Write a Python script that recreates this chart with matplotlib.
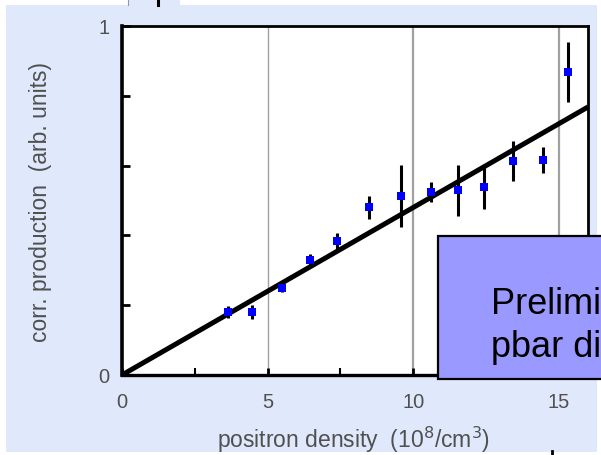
import matplotlib
matplotlib.use("Agg")
from matplotlib import pyplot as plt
from matplotlib.patches import Rectangle

plt.rcParams['font.family'] = ['Liberation Sans', 'DejaVu Sans']

# positron density (10^8/cm^3) and corr. production (arb. units)
density = [3.64, 4.47, 5.50, 6.46, 7.39, 8.49, 9.59, 10.62, 11.55, 12.44, 13.44, 14.47, 15.30]
production = [0.181, 0.181, 0.249, 0.330, 0.384, 0.481, 0.513, 0.524, 0.530, 0.539, 0.613, 0.616, 0.868]
errors = [0.018, 0.020, 0.012, 0.018, 0.022, 0.033, 0.090, 0.029, 0.073, 0.062, 0.057, 0.037, 0.087]
fit_slope = 0.048
fit_x = [0, 16]
fit_y = [fit_slope * v for v in fit_x]

W, H = 601, 456
fig = plt.figure(figsize=(W / 100, H / 100), dpi=100, facecolor='white')

# slide background
fig.patches.append(Rectangle((6 / W, 3 / H), (597 - 6) / W, (450 - 3) / H,
                             transform=fig.transFigure, facecolor='#dfe9fb',
                             edgecolor='none', zorder=-5))
# bits of the slide above the chart
fig.patches.append(Rectangle((128 / W, 450 / H), 52 / W, 6 / H,
                             transform=fig.transFigure, facecolor='#dfe9fb',
                             edgecolor='none', zorder=-5))
fig.lines.append(plt.Line2D([157.5 / W, 157.5 / W], [450 / H, 1], transform=fig.transFigure,
                            color='black', lw=2.2, zorder=-4))
fig.lines.append(plt.Line2D([128 / W, 128 / W], [450 / H, 1], transform=fig.transFigure,
                            color='#999999', lw=0.8, zorder=-4))
fig.lines.append(plt.Line2D([552 / W, 552 / W], [0, 4 / H], transform=fig.transFigure,
                            color='black', lw=2, zorder=-4))

ax = fig.add_axes([122 / W, (H - 376) / H, (588 - 122) / W, (376 - 27) / H])
ax.set_zorder(1)
ax.set_facecolor('white')
ax.set_xlim(0, 16)
ax.set_ylim(0, 1)

for xv, lw in [(5, 1.0), (10, 1.6), (15, 1.6)]:
    ax.axvline(xv, color='#a0a0a0', lw=lw, zorder=1)

ax.plot(fit_x, fit_y, color='black', lw=3.6, solid_capstyle='butt', zorder=3)
ax.errorbar(density, production, yerr=errors, fmt='s', color='#0000ff',
            ecolor='black', elinewidth=2.2, capsize=0, markersize=5.5,
            markeredgewidth=0, zorder=4)

ax.set_xticks([0, 5, 10, 15])
ax.set_xticks([2.5, 7.5, 12.5], minor=True)
ax.set_yticks([0, 0.2, 0.4, 0.6, 0.8, 1])
ax.set_yticklabels(['0', '', '', '', '', '1'])
ax.tick_params(axis='both', which='both', direction='in', colors='black',
               labelcolor='#505050', labelsize=14.5)
ax.tick_params(axis='x', which='major', length=5, width=2, pad=12)
ax.tick_params(axis='x', which='minor', length=5, width=1.5)
ax.tick_params(axis='y', length=6, width=2, pad=9)

for side, lw in [('left', 2.6), ('bottom', 2.4), ('top', 2.0), ('right', 2.0)]:
    ax.spines[side].set_linewidth(lw)
    ax.spines[side].set_color('black')

ax.set_xlabel('positron density  (10$^8$/cm$^3$)', fontsize=16.5, color='#505050')
ax.xaxis.set_label_coords(0.497, -0.14)
ax.set_ylabel('corr. production  (arb. units)', fontsize=16.5, color='#505050')
ax.yaxis.set_label_coords(-0.15, 0.5)

# overlapping slide box
fig.patches.append(Rectangle((438 / W, (H - 380) / H), 200 / W, (380 - 237) / H,
                             transform=fig.transFigure, facecolor='#9999ff',
                             edgecolor='black', lw=1.6, zorder=10))
fig.text(491 / W, (H - 314) / H, 'Prelimi', fontsize=26, color='black',
         va='baseline', ha='left', zorder=11)
fig.text(491 / W, (H - 357) / H, 'pbar di', fontsize=26, color='black',
         va='baseline', ha='left', zorder=11)

fig.savefig('out.png', dpi=100, facecolor=fig.get_facecolor())
